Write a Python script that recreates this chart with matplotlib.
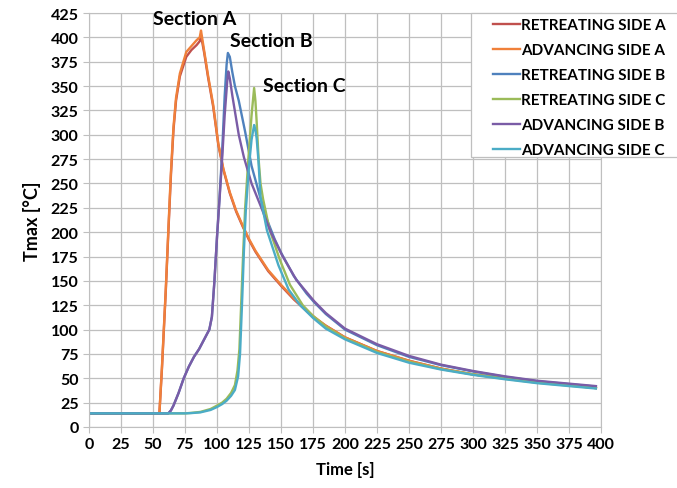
import matplotlib
matplotlib.use("Agg")
import matplotlib.pyplot as plt
from matplotlib.patches import Rectangle

plt.rcParams["font.family"] = ["Lato", "DejaVu Sans"]
plt.rcParams["font.weight"] = "bold"

# time [s] / Tmax [°C] pairs
t_ret_a = [0, 50, 55, 57, 60, 62, 64, 66, 68, 71, 76, 80, 84, 86.5, 87.5, 90, 93, 97, 101,
           105, 110, 115, 120, 125, 130, 140, 150, 160, 165, 175, 185, 200, 225, 250, 275,
           300, 325, 350, 375, 396]
T_ret_a = [14, 14, 14, 60, 140, 200, 258, 305, 335, 360, 380, 387, 392, 396, 402, 384, 359, 329, 290,
           264, 240, 221, 206, 192, 180, 160, 145, 131, 125, 113, 104, 92, 78, 68, 60,
           54, 50, 46, 43, 40]

t_adv_a = [0, 50, 55, 57, 60, 62, 64, 66, 68, 71, 76, 80, 84, 86.5, 87.5, 90, 93, 97, 101,
           105, 110, 115, 120, 125, 130, 140, 150, 160, 165, 175, 185, 200, 225, 250, 275,
           300, 325, 350, 375, 396]
T_adv_a = [14, 14, 14, 62, 142, 203, 262, 308, 338, 363, 385, 391, 397, 400, 407, 386, 361, 331, 291,
           265, 241, 222, 207, 193, 181, 161, 146, 132, 126, 114, 104, 92, 78, 68, 60,
           54, 50, 46, 43, 40]

t_ret_b = [0, 62, 64, 66, 70, 74, 78, 82, 86, 90, 94, 96, 98, 100, 102, 104, 106, 107.5, 108.5,
           110, 112, 114, 117, 122, 127, 133.5, 139, 145, 150, 160, 170, 176, 185, 200, 225,
           250, 275, 300, 325, 350, 375, 396]
T_ret_b = [14, 14, 17, 22, 35, 50, 62, 72, 80, 90, 100, 113, 150, 195, 236, 282, 340, 372, 384,
           380, 364, 350, 335, 303, 268, 237, 213, 193, 179, 155, 137, 128, 116, 100, 84,
           72, 63.5, 57, 51.5, 47, 44, 41.5]

t_ret_c = [0, 75, 80, 87, 95, 100, 104, 107.5, 111, 114, 116, 117.5, 119, 120.5, 122, 124.5, 127,
           129, 130, 131, 132.5, 134, 136, 141, 149, 157, 167, 175, 185, 200, 225, 250, 275,
           300, 325, 350, 375, 396]
T_ret_c = [14, 14, 14.5, 15.5, 18.5, 22, 25, 29, 35, 43, 58, 80, 130, 180, 225, 275, 320,
           348, 335, 313, 275, 250, 234, 203, 172, 146, 125, 114, 103, 91, 77, 67, 59.5,
           54, 49.5, 45.5, 42.5, 40]

t_adv_b = [0, 62, 64, 66, 70, 74, 78, 82, 86, 90, 94, 96, 98, 100, 102, 104, 106, 108, 108.8,
           110, 112, 117, 121, 127, 135, 142, 151, 162, 176, 185, 200, 225, 250, 275, 300,
           325, 350, 375, 396]
T_adv_b = [14, 14, 17, 22, 35, 50, 62, 72, 80, 90, 100, 113, 150, 195, 234, 275, 320, 355, 365,
           358, 340, 300, 277, 250, 224, 200, 176, 151, 129, 117, 101, 85, 73, 64, 57.5,
           52, 47.5, 44.5, 42]

t_adv_c = [0, 75, 80, 87, 95, 100, 104, 107.5, 111, 114, 116.5, 118, 119.8, 121, 122.5, 125, 127,
           129, 130, 131, 132.3, 134, 139, 148, 156, 165, 175, 185, 200, 225, 250, 275, 300,
           325, 350, 375, 396]
T_adv_c = [14, 14, 14.3, 15, 17.5, 20.5, 23.5, 27, 32, 38, 52, 75, 135, 180, 222, 268, 295,
           310, 305, 296, 275, 236, 202, 166, 141, 125, 112, 101, 90, 76, 66, 59, 53.5,
           49, 45, 42, 39.5]

series = [
    ("RETREATING SIDE A", t_ret_a, T_ret_a, "#C0504D"),
    ("ADVANCING SIDE A", t_adv_a, T_adv_a, "#F0803A"),
    ("RETREATING SIDE B", t_ret_b, T_ret_b, "#4F81BD"),
    ("RETREATING SIDE C", t_ret_c, T_ret_c, "#9BBB59"),
    ("ADVANCING SIDE B", t_adv_b, T_adv_b, "#7A5CA6"),
    ("ADVANCING SIDE C", t_adv_c, T_adv_c, "#4BACC6"),
]

W, H = 677, 489
fig = plt.figure(figsize=(W / 100, H / 100), dpi=100)
ax = fig.add_axes([89 / W, 61 / H, 512 / W, 414 / H])

for name, t, T, c in series:
    ax.plot(t, T, color=c, lw=1.7, label=name)

grid_c = "#BFBFBF"
ax.set_xlim(0, 400)
ax.set_ylim(0, 425)
ax.set_xticks(range(0, 401, 25))
ax.set_yticks(range(0, 426, 25))
ax.grid(True, color=grid_c, lw=0.9)
for s in ax.spines.values():
    s.set_color(grid_c)
ax.tick_params(colors=grid_c, labelcolor="black", length=4, labelsize=11.5)
for lab in ax.get_xticklabels() + ax.get_yticklabels():
    lab.set_fontweight("bold")

ax.set_xlabel("Time [s]", fontsize=12, fontweight="bold", labelpad=7)
ax.set_ylabel("Tmax [°C]", fontsize=13, fontweight="bold", labelpad=7)

sec_kw = dict(fontsize=14, fontweight="bold", va="center", ha="left")
ax.text(50, 419, "Section A", **sec_kw)
ax.text(110, 397, "Section B", **sec_kw)
ax.text(136, 351, "Section C", **sec_kw)

# legend frame runs off the right edge of the figure, so draw it separately
box = Rectangle((471 / W, (H - 158) / H), (W - 471 + 5) / W, 144 / H,
                transform=fig.transFigure, facecolor="white", edgecolor=grid_c,
                lw=0.9, clip_on=False, zorder=4.9)
ax.add_patch(box)

leg = ax.legend(loc="upper left", bbox_to_anchor=(493 / W, 1 - 19 / H),
                bbox_transform=fig.transFigure, frameon=False,
                fontsize=11, handlelength=1.75, handletextpad=0.1,
                labelspacing=0.72, borderpad=0, borderaxespad=0)
leg.set_zorder(5)
for txt in leg.get_texts():
    txt.set_fontweight("bold")

fig.savefig("out.png", dpi=100)
